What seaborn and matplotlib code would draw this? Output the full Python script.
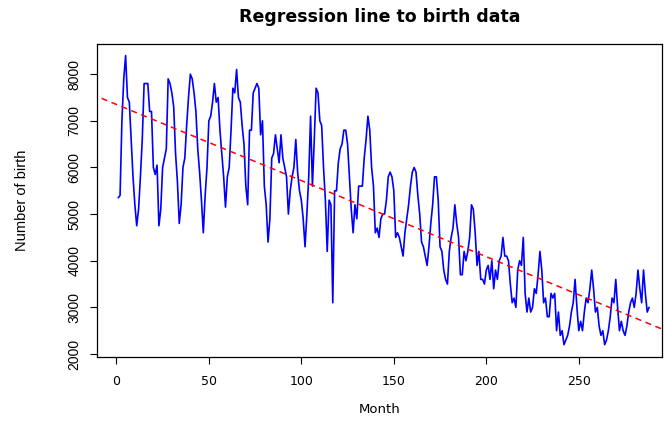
import numpy as np
import pandas as pd
import matplotlib
matplotlib.use("Agg")
import matplotlib.pyplot as plt
import seaborn as sns

births = [
    5350, 5400, 7000, 7900, 8400, 7500, 7400, 6600, 5800, 5200, 4750, 5100,
    5800, 6600, 7800, 7800, 7800, 7200, 7200, 6000, 5850, 6050, 4750, 5100,
    6000, 6200, 6400, 7900, 7800, 7600, 7300, 6300, 5700, 4800, 5200, 6000,
    6200, 6900, 7500, 8000, 7900, 7600, 7200, 6400, 5900, 5300, 4600, 5400,
    6000, 7000, 7100, 7400, 7800, 7400, 7500, 6800, 6300, 5800, 5150, 5800,
    6000, 6800, 7700, 7600, 8100, 7500, 7400, 6900, 6500, 5600, 5200, 6800,
    6800, 7600, 7700, 7800, 7700, 6700, 7000, 5600, 5200, 4400, 4900, 6200,
    6300, 6700, 6400, 6100, 6700, 6200, 6000, 5800, 5000, 5500, 5800, 6000,
    6600, 5900, 5500, 5300, 4900, 4300, 5000, 5800, 7100, 5600, 6600, 7700,
    7600, 7000, 6900, 6000, 5300, 4200, 5300, 5200, 3100, 5500, 5500, 6100,
    6400, 6500, 6800, 6800, 6500, 5800, 5100, 4600, 5200, 4900, 5600, 5600,
    5600, 6200, 6600, 7100, 6800, 6000, 5600, 4600, 4700, 4500, 4900, 5000,
    5000, 5300, 5800, 5900, 5800, 5500, 4500, 4600, 4500, 4300, 4100, 4600,
    4900, 5200, 5600, 5900, 6000, 5900, 5400, 5000, 4400, 4300, 4100, 3900,
    4300, 4800, 5200, 5800, 5800, 5300, 4300, 4200, 3800, 3600, 3500, 4200,
    4500, 4700, 5200, 4800, 4500, 3700, 3700, 4200, 4000, 4200, 4500, 5200,
    5100, 4600, 3900, 4200, 3600, 3600, 3500, 3800, 3900, 3600, 4000, 3400,
    3800, 3600, 4000, 4100, 4500, 4100, 4100, 4000, 3500, 3100, 3200, 3000,
    3800, 4000, 3900, 4500, 3300, 2900, 3200, 2900, 3000, 3400, 3300, 3700,
    4200, 3800, 3100, 3200, 2800, 2800, 3300, 3200, 3300, 2500, 2900, 2400,
    2500, 2200, 2300, 2400, 2600, 2900, 3100, 3600, 3000, 2500, 2700, 2500,
    2900, 3200, 3100, 3400, 3800, 3400, 2900, 3000, 2600, 2400, 2500, 2200,
    2300, 2500, 2800, 3200, 3100, 3600, 3000, 2500, 2700, 2500, 2400, 2600,
    2900, 3100, 3200, 3000, 3300, 3800, 3400, 3100, 3800, 3300, 2900, 3000,
]
months = list(range(1, len(births) + 1))

x_ticks = [0, 50, 100, 150, 200, 250]
y_ticks = [2000, 3000, 4000, 5000, 6000, 7000, 8000]

df = pd.DataFrame({"Month": months, "Births": births})

sns.set_style("white")
plt.rcParams["font.family"] = ["Liberation Sans", "DejaVu Sans"]
plt.rcParams["text.color"] = "black"
plt.rcParams["axes.labelcolor"] = "black"
plt.rcParams["xtick.color"] = "black"
plt.rcParams["ytick.color"] = "black"
narrow = ["Liberation Sans Narrow", "Liberation Sans", "DejaVu Sans"]

fig = plt.figure(figsize=(6.64, 4.21), dpi=100)
ax = fig.add_axes([0.146, 0.152, 0.851, 0.743])

sns.lineplot(data=df, x="Month", y="Births", ax=ax, color="blue", linewidth=1.2)
sns.regplot(data=df, x="Month", y="Births", ax=ax, scatter=False, ci=None,
            truncate=False, line_kws=dict(color="red", linestyle=(0, (4, 3)), linewidth=1.1))
ax.set_xlim(-10.5, 295)
ax.set_ylim(1936, 8643)

ax.set_xticks(x_ticks)
ax.set_xticklabels([str(v) for v in x_ticks], family="DejaVu Sans", fontsize=9)
ax.set_yticks(y_ticks)
ax.set_yticklabels([str(v) for v in y_ticks], rotation=90, va="center",
                   fontsize=10, family=narrow)
ax.tick_params(axis="both", direction="out", length=5, width=0.8, color="black",
               labelcolor="black", bottom=True, left=True)
ax.tick_params(axis="x", pad=8)
ax.tick_params(axis="y", pad=6)
for s in ax.spines.values():
    s.set_color("black")
    s.set_linewidth(0.9)

ax.set_xlabel("Month", fontsize=9.5, labelpad=11, family="DejaVu Sans", color="black")
ax.set_ylabel("Number of birth", fontsize=10.5, labelpad=28, family=narrow, color="black")
ax.set_title("Regression line to birth data", fontsize=12.5, fontweight="bold",
             pad=16, family="DejaVu Sans", color="black")

fig.savefig("out.png", dpi=100)
